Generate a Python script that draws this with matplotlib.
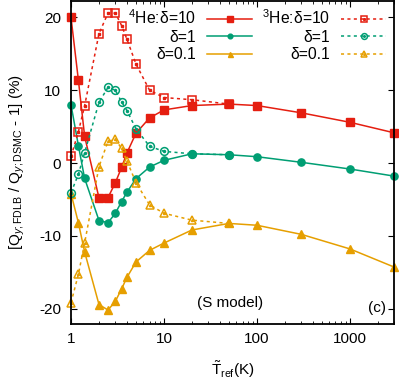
import numpy as np
import matplotlib
matplotlib.use('Agg')
import matplotlib.pyplot as plt
from matplotlib.lines import Line2D
from matplotlib.legend_handler import HandlerTuple

plt.rcParams['font.family'] = ['Liberation Sans', 'DejaVu Sans']
plt.rcParams['mathtext.fontset'] = 'custom'
plt.rcParams['mathtext.rm'] = 'Liberation Sans'
plt.rcParams['mathtext.it'] = 'Liberation Sans:italic'
plt.rcParams['mathtext.bf'] = 'Liberation Sans:bold'

# reference temperature (K)
T = [1, 1.2, 1.4, 2, 2.5, 3, 3.5, 4, 5, 7, 10, 20, 50, 100, 300, 1000, 3000]
T3 = T[:13]

# 4He
he4_d10 = [20.0, 11.4, 3.7, -4.8, -4.75, -2.7, -0.6, 1.4, 4.1, 6.2, 7.3, 7.9, 8.1, 7.9, 6.9, 5.6, 4.15]
he4_d1 = [8.0, 2.4, -2.1, -7.9, -8.2, -6.9, -5.3, -4.0, -2.15, -0.55, 0.37, 1.27, 1.14, 0.87, 0.1, -0.82, -1.8]
he4_d01 = [-4.2, -8.2, -12.2, -19.45, -20.2, -19.0, -17.3, -15.7, -13.6, -12.0, -11.0, -9.2, -8.3, -8.55, -9.8, -11.8, -14.3]

# 3He
he3_d10 = [0.9, 4.3, 7.85, 17.8, 20.6, 20.6, 18.9, 17.0, 13.6, 10.0, 9.0, 8.7, 8.1]
he3_d1 = [-4.07, -1.55, 1.4, 8.35, 10.4, 10.0, 8.4, 7.2, 4.7, 2.3, 1.6, 1.27, 1.14]
he3_d01 = [-19.2, -15.3, -11.0, -0.5, 3.0, 3.25, 2.0, 0.27, -2.7, -5.75, -6.9, -7.85, -8.3]

labels4 = [r'$^4$He:δ=10', 'δ=1', 'δ=0.1']
labels3 = [r'$^3$He:δ=10', 'δ=1', 'δ=0.1']

red = '#e51e10'
green = '#009e73'
orange = '#e69f00'
cols = [red, green, orange]
mks = ['s', 'o', '^']

fig = plt.figure(figsize=(3.99, 3.81), dpi=100)
ax = fig.add_axes([0.178, 0.15, 0.81, 0.848])

lw = 1.1
ds = (0, (2, 2.2))
ms4 = [5.8, 5.2, 5.8]
ms3 = [5.8, 5.6, 6.2]

for y, c, m, s in zip([he4_d10, he4_d1, he4_d01], cols, mks, ms4):
    ax.plot(T, y, '-', color=c, lw=lw, marker=m, ms=s, clip_on=False)
for y, c, m, s in zip([he3_d10, he3_d1, he3_d01], cols, mks, ms3):
    ax.plot(T3, y, linestyle=ds, color=c, lw=lw, marker=m, ms=s, mfc='none', mew=1.1, clip_on=False)
    ax.plot(T3, y, ls='none', color=c, marker=m, ms=1.5, clip_on=False)

ax.set_xscale('log')
ax.set_xlim(1, 3000)
ax.set_ylim(-22.1, 22.3)
ax.set_yticks([-20, -10, 0, 10, 20])
ax.set_yticklabels(['-20', '-10', '0', '10', '20'])
ax.set_xticks([1, 10, 100, 1000])
ax.set_xticklabels(['1', '10', '100', '1000'])

ax.tick_params(which='both', direction='in', top=True, right=True, labelsize=11)
ax.tick_params(which='major', length=4.5, width=0.8)
ax.tick_params(which='minor', length=2.5, width=0.6)
ax.tick_params(axis='x', pad=6)
ax.tick_params(axis='y', pad=7)
for s in ax.spines.values():
    s.set_linewidth(1.3)

ax.set_xlabel(r'$\tilde{\mathrm{T}}_{\mathrm{ref}}$(K)', fontsize=11, labelpad=9)
ax.set_ylabel(r'[Q$_{y;\mathrm{FDLB}}$ / Q$_{y;\mathrm{DSMC}}$ - 1] (%)', fontsize=11, labelpad=9)

ax.text(0.39, 0.065, '(S model)', transform=ax.transAxes, fontsize=11, ha='left', va='center')
ax.text(0.975, 0.05, '(c)', transform=ax.transAxes, fontsize=11, ha='right', va='center')

# legend proxies with smaller symbols, like the reference key
hs = []
for c, m, s in zip(cols, mks, [4.3, 3.4, 3.6]):
    hs.append(Line2D([], [], color=c, lw=lw, marker=m, ms=s))
for c, m, s in zip(cols, mks, [4.6, 4.2, 4.8]):
    hs.append((Line2D([], [], color=c, lw=lw, ls=ds, marker=m, ms=s, mfc='none', mew=1.1),
               Line2D([], [], color=c, ls='none', marker=m, ms=1.2)))

ax.legend(hs, labels4 + labels3,
          handler_map={tuple: HandlerTuple(ndivide=1)},
          ncol=2, markerfirst=False, frameon=False, loc='upper right',
          fontsize=11.3, handlelength=2.9, handletextpad=0.7, columnspacing=0.6,
          labelspacing=0.15, borderpad=0.2, borderaxespad=0.3, numpoints=1)

fig.savefig('out.png', dpi=100)
